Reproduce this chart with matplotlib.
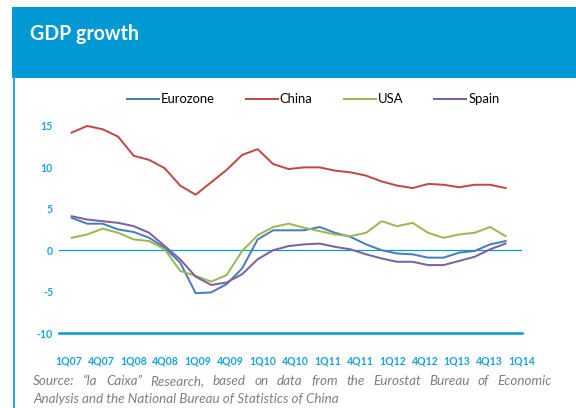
import numpy as np
import matplotlib
matplotlib.use("Agg")
import matplotlib.pyplot as plt
from matplotlib.patches import Rectangle
from matplotlib.lines import Line2D

plt.rcParams["font.family"] = ["Lato", "DejaVu Sans"]

# quarterly GDP growth (%), 1Q07 .. 1Q14
eurozone = [3.9, 3.2, 3.2, 2.5, 2.2, 1.5, 0.3, -1.5, -5.2, -5.1, -4.1, -2.2, 1.3, 2.4, 2.4,
            2.4, 2.8, 2.1, 1.6, 0.7, 0.0, -0.4, -0.5, -0.9, -0.9, -0.3, -0.1, 0.7, 1.1]
china = [14.2, 15.0, 14.6, 13.7, 11.4, 10.9, 9.9, 7.8, 6.7, 8.2, 9.7, 11.5, 12.2, 10.4, 9.8,
         10.0, 10.0, 9.6, 9.4, 9.0, 8.3, 7.8, 7.5, 8.0, 7.9, 7.6, 7.9, 7.9, 7.5]
usa = [1.5, 1.9, 2.6, 2.1, 1.3, 1.1, 0.1, -2.5, -3.1, -3.8, -3.0, -0.1, 1.8, 2.8, 3.2,
       2.7, 2.3, 1.9, 1.7, 2.1, 3.5, 2.9, 3.3, 2.1, 1.5, 1.9, 2.1, 2.8, 1.7]
spain = [4.1, 3.7, 3.5, 3.3, 2.9, 2.1, 0.5, -1.1, -3.2, -4.2, -3.9, -2.9, -1.1, 0.0, 0.5,
         0.7, 0.8, 0.4, 0.1, -0.5, -1.0, -1.4, -1.4, -1.8, -1.8, -1.3, -0.8, 0.1, 0.8]

series_names = ["Eurozone", "China", "USA", "Spain"]
series_colors = ["#4A7EBB", "#BE4B48", "#98B954", "#7D60A0"]

x_labels = ["1Q07", "4Q07", "1Q08", "4Q08", "1Q09", "4Q09", "1Q10", "4Q10",
            "1Q11", "4Q11", "1Q12", "4Q12", "1Q13", "4Q13", "1Q14"]
y_ticks = [15, 10, 5, 0, -5, -10]

source_line1 = "Source: \u201cla Caixa\u201d Research, based on data from the Eurostat Bureau of Economic"
source_line2 = "Analysis and the National Bureau of Statistics of China"

blue = "#0099D4"
tick_blue = "#1AA3DC"
W, H = 576, 408

fig = plt.figure(figsize=(W / 72, H / 72), dpi=72)

# header band
fig.patches.append(Rectangle((12 / W, 1 - 77 / H), 1, 70 / H,
                             transform=fig.transFigure, color=blue, zorder=0))
fig.text(30 / W, 1 - 34 / H, "GDP growth", color="white", fontsize=19.5,
         fontweight="bold", va="center", ha="left")
# left border line
fig.lines.append(Line2D([14 / W, 14 / W], [0, 1 - 77 / H],
                        transform=fig.transFigure, color="#22A7E0", lw=2))

ax = fig.add_axes([59 / W, 1 - 333 / H, 463 / W, (333 - 109.4) / H])
x = np.arange(len(china))
for vals, name, col in zip([eurozone, china, usa, spain], series_names, series_colors):
    ax.plot(x, vals, color=col, lw=2, label=name, solid_joinstyle="round")

ax.set_xlim(-0.82, 28.45)
ax.set_ylim(-10, 17)
ax.axhline(0, color=blue, lw=1.2, zorder=1)
for s in ["top", "right", "left"]:
    ax.spines[s].set_visible(False)
ax.spines["bottom"].set_color(blue)
ax.spines["bottom"].set_linewidth(2.5)

ax.set_yticks(y_ticks)
ax.set_yticklabels([str(v) for v in y_ticks], color=tick_blue, fontsize=10.5,
                   fontweight="bold")
ax.tick_params(axis="y", length=0, pad=6)

label_pos = [-0.2 + i * 2.09 for i in range(len(x_labels))]
ax.set_xticks(label_pos)
ax.set_xticklabels(x_labels, color=tick_blue, fontsize=10.5, fontweight="bold")
ax.tick_params(axis="x", length=0, pad=23)

ax.legend(loc="center", bbox_to_anchor=(0.549, 1.045), ncol=4, frameon=False,
          fontsize=13, handlelength=2.45, columnspacing=2.4, handletextpad=0.15)

# source note, first line justified between x=33 and x=552
renderer = fig.canvas.get_renderer()
words = source_line1.split(" ")
texts = [fig.text(0, 1 - 381 / H, w, color="#7F7F7F", fontsize=13.5, style="italic",
                  va="center", ha="left") for w in words]
widths = [t.get_window_extent(renderer).width for t in texts]
gap = (552 - 33 - sum(widths)) / (len(words) - 1)
xpos = 33
for t, w in zip(texts, widths):
    t.set_x(xpos / W)
    xpos += w + gap
fig.text(33 / W, 1 - 399 / H, source_line2, color="#7F7F7F", fontsize=13.5,
         style="italic", va="center", ha="left")

fig.savefig("out.png", dpi=72)
